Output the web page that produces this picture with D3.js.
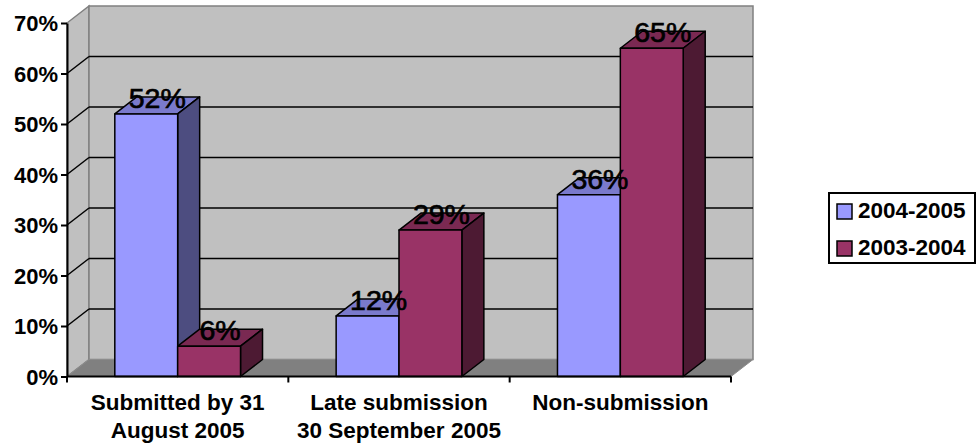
<!DOCTYPE html>
<html>
<head>
<meta charset="utf-8">
<script src="https://cdn.jsdelivr.net/npm/d3@7"></script>
<style>
    body { margin: 0; background: #fff; }
    text { font-family: "Liberation Sans", Arial, sans-serif; }
</style>
</head>
<body>
<svg id="chart" width="976" height="445"></svg>
<script>
const categories = [
    ['Submitted by 31', 'August 2005'],
    ['Late submission', '30 September 2005'],
    ['Non-submission']
];
const seriesNames = ['2004-2005', '2003-2004'];
const values2004 = [0.52, 0.12, 0.36];
const values2003 = [0.06, 0.29, 0.65];
const yTicks = [0, 0.1, 0.2, 0.3, 0.4, 0.5, 0.6, 0.7];

const colors = {
    '2004-2005': { front: '#9999ff', top: '#7a7acc', side: '#4d4d80' },
    '2003-2004': { front: '#993366', top: '#7a2952', side: '#4d1a33' }
};

const depth = { dx: 22, dy: -17 };
const svg = d3.select('#chart');
const catIdx = categories.map((d, i) => i);

const x0 = d3.scaleBand()
    .domain(catIdx)
    .range([67, 731]);

const x1 = d3.scaleBand()
    .domain(seriesNames)
    .range([x0.bandwidth() * 0.216, x0.bandwidth() * 0.784]);

const y = d3.scaleLinear()
    .domain([0, 0.7])
    .range([376.5, 23]);

const left = x0.range()[0];
const right = x0.range()[1];
const yMax = y(0.7);
const yMin = y(0);

// walls and floor
const g = svg.append('g');

g.append('polygon')
    .attr('points', [[left, yMin], [left + depth.dx, yMin + depth.dy], [left + depth.dx, yMax + depth.dy], [left, yMax]].join(' '))
    .attr('fill', '#c0c0c0')
    .attr('stroke', '#808080')
    .attr('stroke-width', 1.5);

g.append('rect')
    .attr('x', left + depth.dx)
    .attr('y', yMax + depth.dy)
    .attr('width', right - left)
    .attr('height', yMin - yMax)
    .attr('fill', '#c0c0c0')
    .attr('stroke', '#808080')
    .attr('stroke-width', 1.5);

g.append('polygon')
    .attr('points', [[left, yMin], [left + depth.dx, yMin + depth.dy], [right + depth.dx, yMin + depth.dy], [right, yMin]].join(' '))
    .attr('fill', '#808080')
    .attr('stroke', '#8c8c8c')
    .attr('stroke-width', 1);

// gridlines (left wall diagonal + back wall)
const grid = yTicks.filter(t => t > 0 && t < 0.7);
g.selectAll('.grid-back')
    .data(grid)
    .enter().append('line')
    .attr('x1', left + depth.dx)
    .attr('x2', right + depth.dx)
    .attr('y1', d => y(d) + depth.dy)
    .attr('y2', d => y(d) + depth.dy)
    .attr('stroke', '#000')
    .attr('stroke-width', 1.5);

g.selectAll('.grid-side')
    .data(grid)
    .enter().append('line')
    .attr('x1', left)
    .attr('x2', left + depth.dx)
    .attr('y1', d => y(d))
    .attr('y2', d => y(d) + depth.dy)
    .attr('stroke', '#000')
    .attr('stroke-width', 1.5);

// bars
const rows = catIdx.map(i => ({ i, vals: [values2004[i], values2003[i]] }));
const bars = [];
rows.forEach(r => {
    seriesNames.forEach((s, k) => bars.push({ cat: r.i, key: s, value: r.vals[k] }));
});

const barG = svg.append('g');
bars.forEach(b => {
    const bx = x0(b.cat) + x1(b.key);
    const bw = x1.bandwidth();
    const top = y(b.value);
    const c = colors[b.key];
    const grp = barG.append('g')
        .attr('stroke', '#000')
        .attr('stroke-width', 1.5)
        .attr('stroke-linejoin', 'round');

    grp.append('polygon')
        .attr('points', [[bx, top], [bx + depth.dx, top + depth.dy], [bx + bw + depth.dx, top + depth.dy], [bx + bw, top]].join(' '))
        .attr('fill', c.top);

    grp.append('polygon')
        .attr('points', [[bx + bw, top], [bx + bw + depth.dx, top + depth.dy], [bx + bw + depth.dx, yMin + depth.dy], [bx + bw, yMin]].join(' '))
        .attr('fill', c.side);

    grp.append('rect')
        .attr('x', bx)
        .attr('y', top)
        .attr('width', bw)
        .attr('height', yMin - top)
        .attr('fill', c.front);
});

// value labels
svg.append('g').selectAll('text')
    .data(bars)
    .enter().append('text')
    .attr('x', d => x0(d.cat) + x1(d.key) + x1.bandwidth() / 2 + depth.dx / 2)
    .attr('y', d => y(d.value) - 6)
    .attr('text-anchor', 'middle')
    .attr('font-size', 28.5)
    .attr('fill', '#000')
    .attr('stroke', '#000')
    .attr('stroke-width', 0.7)
    .text(d => d3.format('.0%')(d.value));

// y axis
const yAxis = svg.append('g')
    .attr('transform', `translate(${left},0)`)
    .call(d3.axisLeft(y).tickValues(yTicks).tickFormat(d3.format('.0%')).tickSizeInner(6).tickSizeOuter(0));
yAxis.select('.domain').attr('stroke', '#000').attr('stroke-width', 2);
yAxis.selectAll('.tick line').attr('stroke', '#000').attr('stroke-width', 2);
yAxis.selectAll('.tick text')
    .attr('x', -9)
    .attr('dy', '0.36em')
    .attr('font-size', 22)
    .attr('font-weight', 'bold')
    .attr('font-family', '"Liberation Sans", Arial, sans-serif')
    .attr('fill', '#000');

// x axis
const xAxis = svg.append('g');
xAxis.append('line')
    .attr('x1', left).attr('x2', right)
    .attr('y1', yMin).attr('y2', yMin)
    .attr('stroke', '#000').attr('stroke-width', 2);
xAxis.selectAll('.xtick')
    .data(catIdx.map(i => x0(i)).concat([right]))
    .enter().append('line')
    .attr('x1', d => d).attr('x2', d => d)
    .attr('y1', yMin).attr('y2', yMin + 6)
    .attr('stroke', '#000').attr('stroke-width', 2);

const catLabels = xAxis.selectAll('.cat')
    .data(categories)
    .enter().append('text')
    .attr('text-anchor', 'middle')
    .attr('font-size', 22.5)
    .attr('font-weight', 'bold')
    .attr('fill', '#000');
catLabels.selectAll('tspan')
    .data((d, i) => d.map(line => ({ line, i })))
    .enter().append('tspan')
    .attr('x', d => x0(d.i) + x0.bandwidth() / 2)
    .attr('y', (d, j) => 410 + j * 28)
    .text(d => d.line);

// legend
const legend = svg.append('g').attr('transform', 'translate(829,193)');
legend.append('rect')
    .attr('width', 146)
    .attr('height', 70)
    .attr('fill', '#fff')
    .attr('stroke', '#000')
    .attr('stroke-width', 2);
const item = legend.selectAll('.item')
    .data(seriesNames)
    .enter().append('g')
    .attr('transform', (d, i) => `translate(8,${11 + i * 37})`);
item.append('rect')
    .attr('width', 15)
    .attr('height', 15)
    .attr('fill', d => colors[d].front)
    .attr('stroke', '#000')
    .attr('stroke-width', 1.5);
item.append('text')
    .attr('x', 21)
    .attr('y', 14)
    .attr('font-size', 22.5)
    .attr('font-weight', 'bold')
    .attr('fill', '#000')
    .text(d => d);
</script>
</body>
</html>
